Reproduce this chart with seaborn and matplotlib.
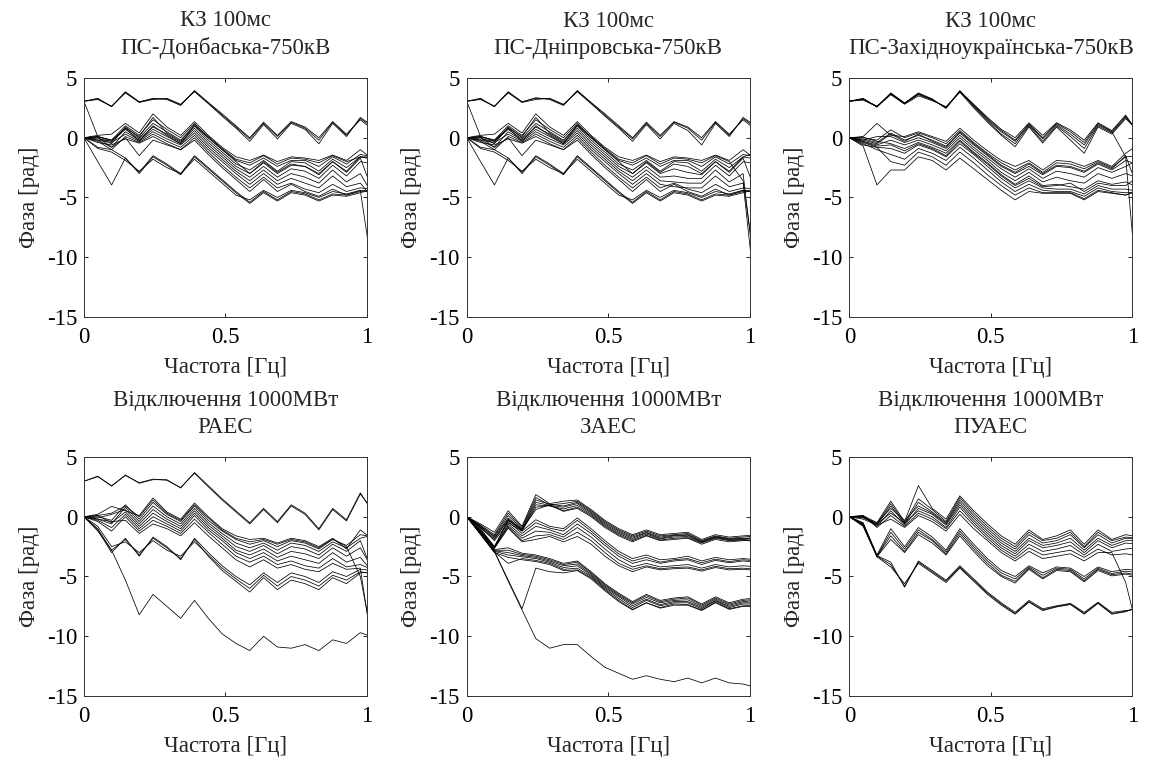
import matplotlib
matplotlib.use('Agg')
import matplotlib.pyplot as plt
import pandas as pd
import seaborn as sns

# frequency grid (Hz); the last point lies just past the axis limit
freqs = [0.0, 0.0488, 0.0977, 0.1465, 0.1953, 0.2441, 0.2930, 0.3418, 0.3906, 0.4395,
         0.4883, 0.5371, 0.5859, 0.6348, 0.6836, 0.7324, 0.7813, 0.8301, 0.8789, 0.9277,
         0.9766, 1.0254]

titles = ['КЗ 100мс\nПС-Донбаська-750кВ',
          'КЗ 100мс\nПС-Дніпровська-750кВ',
          'КЗ 100мс\nПС-Західноукраїнська-750кВ',
          'Відключення 1000МВт\nРАЕС',
          'Відключення 1000МВт\nЗАЕС',
          'Відключення 1000МВт\nПУАЕС']

x_label = 'Частота [Гц]'
y_label = 'Фаза [рад]'
y_ticks = [5, 0, -5, -10, -15]
x_ticks = [0, 0.5, 1]
x_tick_labels = ['0', '0.5', '1']

donbas_lines = [
    [3.05, 3.25, 2.6, 3.8, 3.0, 3.25, 3.25, 2.75, 3.9, 2.9, 1.9, 0.9, -0.1, 1.2, 0.1, 1.3, 0.8, -0.2, 1.3, 0.2, 1.6, 0.8],
    [3.05, 3.2, 2.65, 3.75, 2.95, 3.2, 3.3, 2.8, 3.85, 2.85, 1.8, 0.8, -0.3, 1.1, -0.1, 1.2, 0.7, -0.5, 1.2, 0.1, 1.7, 0.9],
    [3.05, 3.3, 2.6, 3.85, 3.0, 3.3, 3.2, 2.7, 3.95, 2.95, 2.0, 1.0, 0.0, 1.3, 0.2, 1.35, 0.9, 0.0, 1.35, 0.3, 1.5, 0.6],
    [3.05, 0.1, -0.2, 0.8, -0.3, 1.0, 0.2, -0.5, 1.0, 0.0, -1.0, -2.0, -3.0, -2.0, -2.9, -2.2, -2.4, -3.0, -2.0, -2.8, -1.6, -1.8],
    [0, 0.2, 0.3, 1.2, 0.4, 2.0, 0.9, 0.2, 1.35, 0.2, -0.8, -1.6, -1.9, -1.45, -2.0, -1.6, -1.7, -1.9, -1.45, -1.9, -1.0, -1.9],
    [0, 0.1, -0.2, 1.0, 0.2, 1.5, 0.7, 0.0, 1.2, 0.0, -1.0, -1.9, -2.3, -1.7, -2.4, -1.9, -1.9, -2.4, -1.6, -2.2, -1.4, -1.6],
    [0, 0.0, -0.5, 0.9, 0.0, 1.2, 0.5, -0.2, 1.0, -0.2, -1.2, -2.2, -2.7, -1.9, -2.8, -2.0, -2.1, -2.8, -1.8, -2.5, -1.6, -1.8],
    [0, -0.1, -0.3, 0.7, -0.1, 0.9, 0.3, -0.4, 0.8, -0.4, -1.4, -2.4, -3.0, -2.1, -3.0, -2.3, -2.4, -3.1, -2.0, -2.9, -1.7, -4.8],
    [0, 0.05, -0.8, 0.5, -0.2, 0.7, 0.1, -0.5, 0.6, -0.6, -1.6, -2.6, -3.3, -2.4, -3.3, -2.6, -2.8, -3.4, -2.3, -3.2, -2.0, -2.2],
    [0, -0.2, -0.4, 0.3, -0.3, 0.5, -0.1, -0.6, 0.4, -0.8, -1.8, -2.8, -3.6, -2.7, -3.6, -3.0, -3.3, -3.8, -2.7, -3.7, -3.0, -5.0],
    [0, -0.3, -1.0, 0.1, -0.4, 0.3, -0.3, -0.8, 0.2, -1.0, -2.0, -3.0, -3.9, -3.0, -3.9, -3.4, -3.8, -4.2, -3.2, -4.1, -3.8, -5.2],
    [0, -0.4, -0.6, -0.1, -0.45, 0.1, -0.5, -1.0, 0.0, -1.2, -2.3, -3.3, -4.2, -3.3, -4.2, -3.8, -4.3, -4.6, -3.9, -4.5, -4.2, -4.3],
    [0, -0.2, -0.8, 0.0, -1.5, -0.2, -0.6, -1.0, -0.2, -1.4, -2.5, -3.5, -4.5, -3.5, -4.5, -3.9, -4.5, -4.9, -4.3, -4.8, -4.4, -12.1],
    [0, 0.1, -0.3, 0.8, 0.1, 1.7, 0.4, -0.3, 1.1, 0.1, -0.9, -1.8, -2.1, -1.5, -2.2, -1.7, -1.8, -2.1, -1.5, -2.0, -1.6, -1.6],
    [0, -0.8, -1.0, -1.7, -3.0, -1.6, -2.3, -3.1, -1.6, -2.6, -3.6, -4.6, -5.5, -4.6, -5.3, -4.6, -4.8, -5.3, -4.8, -4.9, -4.6, -4.3],
    [0, -0.9, -1.2, -1.9, -2.8, -1.8, -2.5, -3.0, -1.8, -2.8, -3.8, -4.8, -5.2, -4.4, -5.0, -4.4, -4.6, -5.0, -4.5, -4.7, -4.4, -4.5],
    [0, -2.0, -3.95, -1.7, -2.9, -1.5, -2.2, -3.0, -1.5, -2.5, -3.5, -4.5, -5.4, -4.5, -5.2, -4.5, -4.7, -5.2, -4.7, -4.8, -4.5, -4.4],
]

dnipro_lines = [
    [3.05, 3.25, 2.6, 3.8, 3.0, 3.3, 3.25, 2.75, 3.9, 2.9, 1.9, 0.9, -0.1, 1.2, 0.1, 1.3, 0.8, -0.2, 1.3, 0.2, 1.6, 0.8],
    [3.05, 3.2, 2.65, 3.75, 2.95, 3.2, 3.3, 2.8, 3.85, 2.85, 1.8, 0.8, -0.3, 1.1, -0.1, 1.2, 0.6, -0.6, 1.2, 0.1, 1.7, 0.9],
    [3.05, 3.3, 2.6, 3.85, 3.0, 3.35, 3.2, 2.7, 3.95, 2.95, 2.0, 1.0, 0.0, 1.3, 0.2, 1.35, 0.9, 0.0, 1.35, 0.3, 1.5, 0.6],
    [3.05, 0.1, -0.2, 0.8, -0.3, 1.0, 0.2, -0.5, 1.0, 0.0, -1.0, -2.0, -3.0, -2.0, -2.9, -2.2, -2.4, -3.0, -2.0, -2.8, -1.6, -1.8],
    [0, 0.2, 0.3, 1.2, 0.4, 2.0, 0.9, 0.2, 1.35, 0.2, -0.8, -1.6, -1.9, -1.45, -2.0, -1.6, -1.7, -1.9, -1.45, -1.9, -1.0, -1.9],
    [0, 0.1, -0.2, 1.0, 0.2, 1.5, 0.7, 0.0, 1.2, 0.0, -1.0, -1.9, -2.3, -1.7, -2.4, -1.9, -1.9, -2.4, -1.6, -2.2, -1.4, -1.6],
    [0, 0.0, -0.5, 0.9, 0.0, 1.2, 0.5, -0.2, 1.0, -0.2, -1.2, -2.2, -2.7, -1.9, -2.8, -2.0, -2.1, -2.8, -1.8, -2.5, -1.6, -1.2],
    [0, -0.1, -0.3, 0.7, -0.1, 0.9, 0.3, -0.4, 0.8, -0.4, -1.4, -2.4, -3.0, -2.1, -3.0, -2.6, -2.9, -3.1, -2.0, -2.9, -1.7, -4.8],
    [0, 0.05, -0.8, 0.5, -0.2, 0.7, 0.1, -0.5, 0.6, -0.6, -1.6, -2.6, -3.3, -2.4, -3.3, -3.2, -3.4, -3.4, -2.3, -3.2, -2.0, -2.2],
    [0, -0.2, -0.4, 0.3, -0.3, 0.5, -0.1, -0.6, 0.4, -0.8, -1.8, -2.8, -3.6, -2.7, -3.6, -3.7, -3.8, -3.8, -2.7, -3.7, -3.0, -13.0],
    [0, -0.3, -1.0, 0.1, -0.4, 0.3, -0.3, -0.8, 0.2, -1.0, -2.0, -3.0, -3.9, -3.0, -3.9, -4.1, -4.2, -4.2, -3.2, -4.1, -3.8, -14.5],
    [0, -0.4, -0.6, -0.1, -0.45, 0.1, -0.5, -1.0, 0.0, -1.2, -2.3, -3.3, -4.2, -3.3, -4.2, -3.8, -4.3, -4.6, -3.9, -4.5, -4.2, -4.3],
    [0, -0.2, -0.8, 0.0, -1.5, -0.2, -0.6, -1.0, -0.2, -1.4, -2.5, -3.5, -4.5, -3.5, -4.5, -3.9, -4.5, -4.9, -4.3, -4.8, -4.4, -4.6],
    [0, 0.1, -0.3, 0.8, 0.1, 1.7, 0.4, -0.3, 1.1, 0.1, -0.9, -1.8, -2.1, -1.5, -2.2, -1.7, -1.8, -2.1, -1.5, -2.0, -3.6, -12.0],
    [0, -0.8, -1.0, -1.7, -3.0, -1.6, -2.3, -3.1, -1.6, -2.6, -3.6, -4.6, -5.5, -4.6, -5.3, -4.6, -4.8, -5.3, -4.8, -4.9, -4.6, -4.3],
    [0, -0.9, -1.2, -1.9, -2.8, -1.8, -2.5, -3.0, -1.8, -2.8, -3.8, -4.8, -5.2, -4.4, -5.0, -4.4, -4.6, -5.0, -4.5, -4.7, -4.4, -4.5],
    [0, -2.0, -3.95, -1.7, -2.9, -1.5, -2.2, -3.0, -1.5, -2.5, -3.5, -4.5, -5.4, -4.5, -5.2, -4.5, -4.7, -5.2, -4.7, -4.8, -4.5, -4.4],
]

zahid_lines = [
    [3.05, 3.25, 2.6, 3.7, 2.9, 3.7, 3.2, 2.5, 3.9, 2.8, 1.7, 0.7, 0.0, 1.25, 0.2, 1.25, 0.65, -0.2, 1.25, 0.6, 1.9, 0.2],
    [3.05, 3.2, 2.65, 3.65, 2.85, 3.6, 3.15, 2.55, 3.85, 2.7, 1.5, 0.5, -0.3, 1.1, -0.1, 1.1, 0.3, -0.6, 1.1, 0.5, 1.8, 0.3],
    [3.05, 3.3, 2.55, 3.75, 2.9, 3.75, 3.25, 2.45, 3.95, 2.6, 1.4, 0.3, -0.5, 1.0, -0.3, 1.0, 0.1, -0.9, 1.0, 0.4, 1.7, 0.4],
    [3.05, 3.15, 2.6, 3.6, 2.8, 3.5, 3.1, 2.6, 3.8, 2.5, 1.3, 0.2, -0.75, 0.9, -0.45, 0.9, -0.2, -1.3, 0.9, 0.3, 1.6, 0.5],
    [3.05, 3.25, 2.6, 3.7, 2.9, 3.65, 3.2, 2.5, 3.9, 2.75, 1.6, 0.6, -0.2, 1.15, 0.0, 1.2, 0.5, -0.4, 1.2, 0.5, -1.6, -15.0],
    [0, 0.1, 1.2, 0.2, 0.1, 0.5, 0.1, -0.3, 0.8, -0.2, -1.1, -1.9, -2.4, -1.9, -2.7, -1.9, -2.0, -2.4, -1.9, -2.4, -1.3, -0.5],
    [0, 0.0, -0.2, 0.66, 0.0, 0.4, 0.0, -0.5, 0.6, -0.4, -1.3, -2.1, -2.7, -2.1, -2.9, -2.1, -2.2, -2.6, -2.0, -2.5, -1.6, -1.5],
    [0, -0.1, -0.4, 0.4, -0.2, 0.2, -0.2, -0.7, 0.4, -0.6, -1.5, -2.4, -3.0, -2.4, -3.1, -2.4, -2.5, -2.9, -2.2, -2.7, -1.9, -2.3],
    [0, -0.2, 0.1, 0.1, -0.4, 0.0, -0.4, -0.9, 0.2, -0.8, -1.7, -2.6, -3.3, -2.6, -3.4, -2.8, -3.0, -3.3, -2.5, -2.9, -2.4, -1.8],
    [0, -0.3, -0.6, -0.2, -0.6, -0.2, -0.6, -1.1, 0.0, -1.0, -1.9, -2.9, -3.6, -2.9, -3.7, -3.3, -3.6, -3.8, -3.0, -3.4, -3.0, -3.4],
    [0, 0.05, -0.3, -0.5, -0.9, -0.4, -0.8, -1.3, -0.2, -1.2, -2.1, -3.1, -3.9, -3.2, -4.0, -3.9, -4.1, -4.3, -3.6, -3.9, -3.7, -4.2],
    [0, -0.4, -0.8, -0.9, -1.3, -0.6, -1.0, -1.6, -0.5, -1.4, -2.4, -3.4, -4.2, -3.6, -4.2, -4.3, -4.3, -4.7, -4.0, -4.3, -4.3, -4.5],
    [0, -0.5, -1.0, -1.4, -1.8, -0.9, -1.3, -1.9, -0.8, -1.7, -2.7, -3.7, -4.5, -3.9, -4.4, -4.5, -4.5, -4.9, -4.2, -4.5, -4.6, -4.6],
    [0, -0.6, -0.8, -2.0, -2.3, -1.2, -1.6, -2.3, -1.2, -2.1, -3.1, -4.0, -4.8, -4.2, -4.6, -4.6, -4.6, -5.1, -4.4, -4.6, -4.8, -4.3],
    [0, -0.7, -3.95, -2.7, -2.7, -1.6, -1.9, -2.7, -1.7, -2.6, -3.5, -4.4, -5.2, -4.5, -4.65, -4.65, -4.65, -5.2, -4.5, -4.65, -4.8, -4.4],
    [0, -0.2, -0.5, 0.3, -0.3, 0.3, -0.3, -0.8, 0.5, -0.5, -1.4, -2.3, -2.9, -2.2, -3.0, -2.3, -2.4, -2.8, -2.1, -2.6, -1.5, -4.6],
    [0, -0.35, -0.7, -0.6, -1.1, -0.5, -0.9, -1.5, -0.3, -1.3, -2.2, -3.2, -4.0, -3.4, -4.1, -4.0, -3.8, -4.5, -3.8, -4.0, -4.0, -3.2],
]

raes_lines = [
    [2.97, 3.4, 2.55, 3.5, 2.8, 3.1, 3.1, 2.4, 3.7, 2.6, 1.5, 0.5, -0.5, 0.7, -0.4, 1.0, 0.3, -1.0, 0.7, -0.25, 2.0, 0.2],
    [2.97, 3.35, 2.6, 3.45, 2.85, 3.15, 3.05, 2.45, 3.65, 2.5, 1.4, 0.4, -0.6, 0.6, -0.5, 0.9, 0.2, -1.1, 0.6, -0.35, 1.9, 0.4],
    [0, -1.2, -2.8, -5.3, -8.2, -6.5, -7.5, -8.5, -7.0, -8.5, -9.8, -10.6, -11.2, -10.0, -10.9, -11.0, -10.7, -11.2, -10.3, -10.6, -9.7, -10.1],
    [0, -1.0, -2.8, -1.9, -3.2, -1.8, -2.6, -3.5, -1.9, -3.3, -4.5, -5.4, -6.3, -5.1, -6.1, -5.3, -5.6, -6.1, -5.1, -5.6, -4.7, -4.6],
    [0, -0.8, -2.5, -2.1, -3.0, -2.0, -2.8, -3.3, -2.1, -3.2, -4.3, -5.2, -6.0, -4.9, -5.8, -5.0, -5.3, -5.8, -4.9, -5.3, -4.6, -4.8],
    [0, -1.1, -3.0, -1.8, -3.3, -1.7, -2.5, -3.6, -1.8, -3.0, -4.1, -5.0, -5.7, -4.7, -5.5, -4.7, -5.0, -5.5, -4.6, -5.0, -4.4, -4.5],
    [0, 0.2, 0.87, 0.5, 0.1, 1.57, 0.4, -0.2, 1.15, 0.0, -1.0, -1.6, -1.9, -1.8, -2.2, -1.8, -2.0, -2.5, -1.8, -2.7, -1.1, -2.0],
    [0, 0.0, -0.3, 1.0, -0.2, 1.2, 0.2, -0.4, 0.9, -0.3, -1.2, -1.9, -2.3, -2.0, -2.5, -2.0, -2.2, -2.7, -1.9, -2.4, -1.5, -1.7],
    [0, -0.2, -0.6, 0.8, -0.4, 0.9, 0.0, -0.6, 0.7, -0.5, -1.4, -2.2, -2.6, -2.2, -2.8, -2.2, -2.4, -2.9, -2.1, -2.6, -1.8, -1.5],
    [0, -0.1, 0.2, 0.6, -0.6, 0.6, -0.2, -0.8, 0.5, -0.7, -1.6, -2.5, -2.9, -2.4, -3.1, -2.5, -2.7, -3.2, -2.3, -2.9, -2.0, -5.0],
    [0, 0.1, -0.5, 0.4, -0.8, 0.3, -0.4, -1.0, 0.3, -0.9, -1.8, -2.8, -3.2, -2.7, -3.4, -2.9, -3.1, -3.5, -2.6, -3.3, -2.6, -4.6],
    [0, -0.3, -0.9, 0.2, -1.0, 0.0, -0.6, -1.2, 0.1, -1.1, -2.0, -3.0, -3.5, -3.0, -3.7, -3.3, -3.6, -3.9, -3.0, -3.8, -3.4, -4.8],
    [0, -0.4, -1.2, 0.0, -1.2, -0.3, -0.8, -1.4, -0.2, -1.3, -2.3, -3.3, -3.8, -3.3, -4.0, -3.7, -4.1, -4.3, -3.5, -4.2, -4.0, -4.5],
    [0, -0.2, -0.4, -0.3, -1.4, -0.6, -1.0, -1.6, -0.5, -1.6, -2.6, -3.6, -4.2, -3.6, -4.3, -4.0, -4.4, -4.6, -3.9, -4.4, -4.3, -12.0],
    [0, 0.1, 0.3, 0.9, 0.0, 1.4, 0.3, -0.3, 1.0, -0.1, -1.1, -1.8, -2.1, -1.9, -2.3, -1.9, -2.1, -2.6, -1.85, -2.5, -5.0, -11.0],
]

zaes_lines = [
    [0, -0.6, -1.3, 0.5, -0.8, 1.85, 1.1, 1.3, 1.4, 0.6, -0.3, -1.0, -1.5, -1.1, -1.5, -1.4, -1.3, -1.9, -1.5, -1.7, -1.6, -1.5],
    [0, -0.7, -1.5, 0.3, -0.9, 1.6, 1.0, 1.1, 1.3, 0.5, -0.4, -1.1, -1.6, -1.2, -1.6, -1.5, -1.4, -2.0, -1.6, -1.8, -1.7, -1.6],
    [0, -0.8, -1.6, 0.1, -1.0, 1.4, 1.05, 0.9, 1.2, 0.4, -0.5, -1.2, -1.7, -1.3, -1.7, -1.55, -1.5, -2.05, -1.65, -1.85, -1.8, -1.8],
    [0, -0.75, -1.7, -0.1, -1.1, 1.2, 0.95, 0.8, 1.1, 0.3, -0.6, -1.3, -1.8, -1.35, -1.8, -1.6, -1.55, -2.1, -1.7, -1.9, -1.85, -1.7],
    [0, -0.9, -1.8, -0.3, -1.15, 1.0, 0.9, 0.65, 0.95, 0.2, -0.7, -1.4, -1.9, -1.45, -1.85, -1.7, -1.65, -2.15, -1.75, -1.95, -1.9, -2.0],
    [0, -0.85, -2.0, -0.5, -1.2, 0.8, 0.95, 0.5, 0.8, 0.1, -0.8, -1.5, -2.0, -1.55, -1.95, -1.8, -1.75, -2.2, -1.8, -2.0, -1.95, -2.1],
    [0, -0.95, -1.9, -0.2, -1.05, 0.6, 1.0, 0.45, 0.7, 0.0, -0.9, -1.6, -2.1, -1.6, -2.0, -1.9, -1.8, -2.3, -1.9, -2.1, -2.0, -1.9],
    [0, -1.0, -2.5, -0.25, -1.2, -0.25, -0.8, -1.0, -0.1, -1.0, -2.0, -2.9, -3.5, -3.2, -3.6, -3.5, -3.3, -3.7, -3.4, -3.6, -3.5, -3.6],
    [0, -1.1, -2.5, -0.4, -1.4, -0.5, -0.95, -1.2, -0.3, -1.2, -2.2, -3.1, -3.7, -3.4, -3.8, -3.6, -3.5, -3.85, -3.55, -3.75, -3.6, -3.7],
    [0, -1.2, -2.6, -0.6, -1.6, -0.8, -1.1, -1.5, -0.6, -1.4, -2.4, -3.3, -3.9, -3.6, -3.9, -3.7, -3.6, -4.0, -3.65, -3.85, -3.7, -3.8],
    [0, -1.15, -2.55, -0.75, -1.8, -1.2, -1.3, -1.7, -0.9, -1.7, -2.7, -3.6, -4.2, -3.9, -4.2, -4.1, -4.0, -4.3, -4.0, -4.2, -4.1, -4.2],
    [0, -1.25, -2.6, -0.85, -2.0, -1.6, -1.5, -1.9, -1.3, -2.0, -3.0, -3.9, -4.4, -4.1, -4.35, -4.25, -4.2, -4.45, -4.15, -4.35, -4.3, -4.4],
    [0, -1.3, -2.65, -0.95, -2.1, -1.9, -1.65, -2.1, -1.65, -2.3, -3.3, -4.1, -4.6, -4.2, -4.45, -4.35, -4.3, -4.55, -4.25, -4.45, -4.4, -4.5],
    [0, -1.3, -2.75, -2.6, -3.05, -3.2, -3.5, -3.9, -3.7, -4.6, -5.6, -6.4, -7.1, -6.5, -7.0, -6.8, -6.7, -7.3, -6.7, -7.2, -6.9, -6.8],
    [0, -1.35, -2.8, -2.8, -3.15, -3.3, -3.6, -4.0, -3.8, -4.7, -5.7, -6.5, -7.2, -6.6, -7.1, -6.9, -6.8, -7.4, -6.8, -7.3, -7.0, -6.9],
    [0, -1.4, -2.85, -3.0, -3.25, -3.4, -3.7, -4.1, -3.95, -4.8, -5.8, -6.6, -7.3, -6.75, -7.2, -7.0, -6.95, -7.5, -6.9, -7.4, -7.1, -7.0],
    [0, -1.4, -2.9, -3.2, -3.35, -3.5, -3.8, -4.25, -4.1, -4.9, -5.9, -6.7, -7.45, -6.9, -7.35, -7.1, -7.1, -7.6, -7.0, -7.5, -7.2, -7.2],
    [0, -1.45, -2.95, -3.9, -3.5, -3.65, -3.9, -4.4, -4.3, -5.0, -6.0, -6.85, -7.6, -7.0, -7.45, -7.2, -7.2, -7.7, -7.05, -7.6, -7.3, -7.3],
    [0, -1.5, -3.0, -3.4, -3.6, -3.75, -4.0, -4.5, -4.45, -5.1, -6.1, -7.0, -7.75, -7.2, -7.6, -7.3, -7.35, -7.8, -7.15, -7.7, -7.45, -7.4],
    [0, -1.4, -2.9, -5.3, -7.7, -4.3, -4.6, -4.7, -4.5, -5.2, -6.2, -7.1, -7.8, -7.2, -7.65, -7.4, -7.4, -7.85, -7.2, -7.75, -7.5, -7.5],
    [0, -1.4, -2.9, -5.4, -7.8, -10.2, -11.0, -10.7, -10.7, -11.7, -12.6, -13.1, -13.6, -13.3, -13.6, -13.8, -13.5, -13.9, -13.5, -13.9, -14.0, -14.3],
]

puaes_lines = [
    [0, 0.1, -0.5, 1.3, -0.4, 2.6, 0.7, -0.2, 1.75, 0.5, -0.6, -1.6, -2.3, -1.1, -1.9, -1.6, -1.1, -2.3, -1.1, -1.9, -1.5, -1.7],
    [0, 0.0, -0.6, 1.1, -0.5, 1.5, 0.6, -0.4, 1.6, 0.3, -0.8, -1.8, -2.5, -1.3, -2.0, -1.8, -1.3, -2.5, -1.3, -2.0, -1.7, -1.8],
    [0, 0.05, -0.7, 0.9, -0.6, 1.2, 0.4, -0.5, 1.4, 0.1, -1.0, -2.0, -2.7, -1.5, -2.2, -2.0, -1.5, -2.6, -1.5, -2.2, -1.8, -1.9],
    [0, -0.05, -0.5, 0.7, -0.3, 0.9, 0.3, -0.6, 1.2, -0.1, -1.2, -2.2, -2.9, -1.8, -2.4, -2.2, -1.8, -2.8, -1.8, -2.4, -2.0, -2.0],
    [0, 0.0, -0.8, 0.5, -0.7, 0.7, 0.2, -0.7, 1.0, -0.3, -1.4, -2.4, -3.1, -2.0, -2.6, -2.4, -2.1, -3.0, -2.0, -2.6, -2.2, -2.3],
    [0, -0.1, -0.6, 0.3, -0.5, 0.5, 0.0, -0.9, 0.8, -0.5, -1.6, -2.6, -3.3, -2.3, -2.9, -2.7, -2.4, -3.2, -2.3, -2.9, -2.7, -2.6],
    [0, 0.1, -0.9, 0.1, -0.8, 0.3, -0.2, -1.0, 0.5, -0.7, -1.8, -2.8, -3.5, -2.6, -3.2, -3.0, -2.8, -3.4, -2.7, -3.2, -3.1, -3.3],
    [0, -0.2, -0.7, -0.2, -0.9, 0.1, -0.4, -1.2, 0.2, -1.0, -2.0, -3.0, -3.7, -2.9, -3.5, -3.3, -3.1, -3.7, -3.0, -3.0, -5.5, -10.2],
    [0, -0.5, -3.2, -1.0, -2.5, -0.9, -1.7, -2.8, -1.0, -2.3, -3.5, -4.5, -5.0, -4.1, -4.7, -4.2, -4.3, -5.0, -4.2, -4.6, -4.4, -4.5],
    [0, -0.6, -3.3, -1.3, -2.7, -1.1, -1.9, -2.95, -1.2, -2.5, -3.7, -4.7, -5.2, -4.2, -4.9, -4.3, -4.4, -5.2, -4.3, -4.75, -4.55, -4.7],
    [0, -0.55, -3.3, -1.6, -2.9, -1.3, -2.0, -3.1, -1.4, -2.7, -3.9, -4.9, -5.4, -4.3, -5.1, -4.4, -4.5, -5.35, -4.4, -4.85, -4.7, -4.9],
    [0, -0.65, -3.35, -1.9, -3.0, -1.5, -2.2, -3.2, -1.6, -2.9, -4.1, -5.0, -5.55, -4.4, -5.2, -4.5, -4.6, -5.45, -4.5, -4.95, -4.8, -5.0],
    [0, -0.75, -3.3, -4.0, -5.8, -3.8, -4.6, -5.4, -4.2, -5.3, -6.4, -7.3, -8.1, -7.1, -7.8, -7.5, -7.3, -8.1, -7.2, -8.1, -7.9, -7.6],
    [0, -0.8, -3.35, -4.2, -5.6, -3.9, -4.7, -5.5, -4.3, -5.4, -6.5, -7.4, -8.15, -7.15, -7.85, -7.55, -7.35, -8.15, -7.25, -8.15, -7.95, -7.5],
    [0, -0.7, -3.25, -3.8, -5.9, -3.7, -4.5, -5.3, -4.1, -5.2, -6.3, -7.2, -8.0, -7.0, -7.7, -7.45, -7.25, -8.0, -7.15, -8.0, -7.85, -7.7],
]

panels = [donbas_lines, dnipro_lines, zahid_lines, raes_lines, zaes_lines, puaes_lines]


def to_frame(lines):
    rows = []
    for i, line in enumerate(lines):
        for f, v in zip(freqs, line):
            rows.append({'freq': f, 'phase': v, 'line': i})
    return pd.DataFrame(rows)


def main():
    sns.set_style('ticks')
    plt.rcParams['font.family'] = ['Liberation Serif', 'DejaVu Serif']
    plt.rcParams['axes.unicode_minus'] = False

    fig = plt.figure(figsize=(11.66, 7.6), dpi=100)

    lefts = [0.0720, 0.4003, 0.7284]
    bottoms = [0.5829, 0.0842]
    w, h = 0.2427, 0.3145
    fs = 16.5

    for n, lines in enumerate(panels):
        ax = fig.add_axes([lefts[n % 3], bottoms[n // 3], w, h])
        df = to_frame(lines)
        sns.lineplot(data=df, x='freq', y='phase', units='line', estimator=None,
                     color='black', linewidth=0.55, sort=False, legend=False, ax=ax)

        ax.set_xlim(0, 1)
        ax.set_ylim(-15, 5)
        ax.set_xticks(x_ticks)
        ax.set_xticklabels(x_tick_labels)
        ax.set_yticks(y_ticks)
        ax.set_yticklabels([str(t) for t in y_ticks])
        ax.tick_params(direction='in', top=True, right=True, length=3, width=0.6,
                       labelsize=fs, colors='black')
        ax.tick_params(axis='x', pad=7)
        ax.tick_params(axis='y', pad=5)
        ax.set_title(titles[n], fontsize=fs, pad=17, linespacing=1.4)
        ax.set_xlabel(x_label, fontsize=fs, labelpad=7)
        ax.set_ylabel(y_label, fontsize=fs, labelpad=5)
        for s in ax.spines.values():
            s.set_linewidth(0.7)
            s.set_color('#333333')

    plt.savefig('out.png', dpi=100)


if __name__ == '__main__':
    main()
